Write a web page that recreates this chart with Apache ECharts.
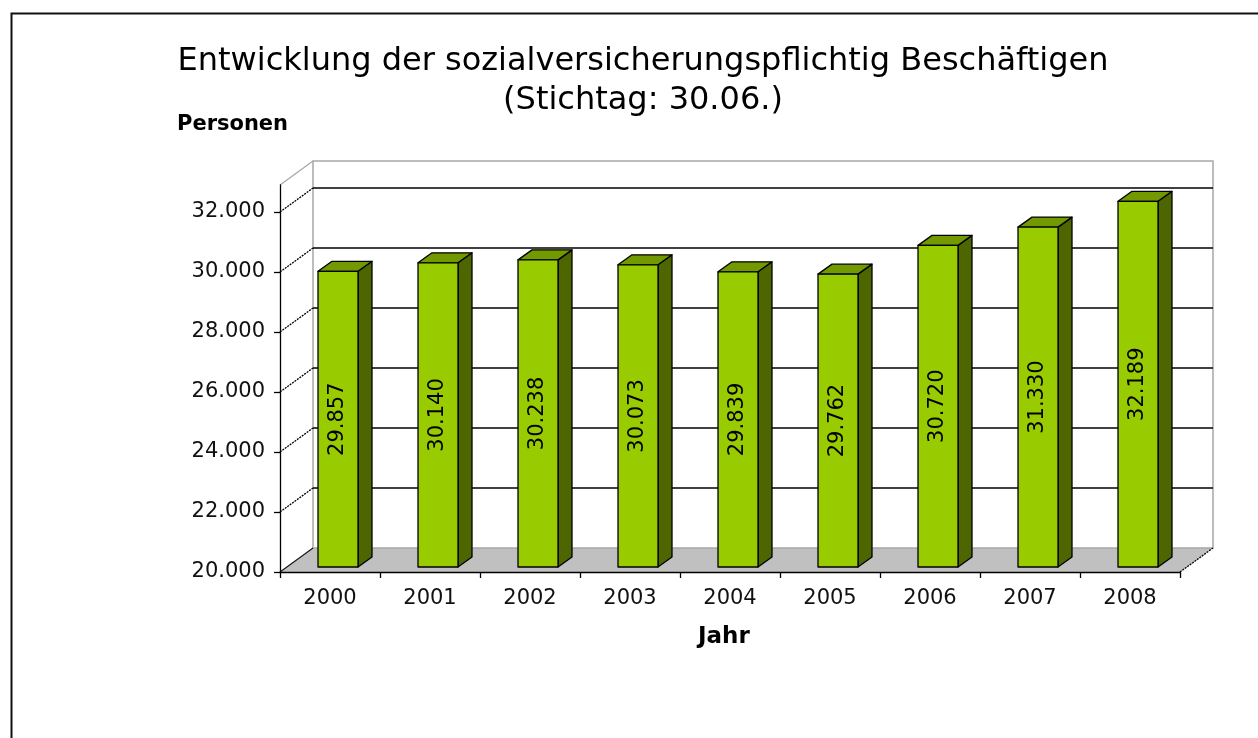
<!DOCTYPE html>
<html><head><meta charset="utf-8">
<script src="https://cdn.jsdelivr.net/npm/echarts@6/dist/echarts.min.js"></script>
<style>html,body{margin:0;padding:0;background:#fff}#c{width:1258px;height:738px}</style>
</head><body><div id="c"></div>
<script>
// ---- data ----
const years = ['2000','2001','2002','2003','2004','2005','2006','2007','2008'];
const employees = [29857, 30140, 30238, 30073, 29839, 29762, 30720, 31330, 32189];
const yTicks = [20000, 22000, 24000, 26000, 28000, 30000, 32000];
const yMin = 20000, yMax = 32900;

const titleText = 'Entwicklung der sozialversicherungspflichtig Beschäftigen\n(Stichtag: 30.06.)';

// ---- 3D geometry (pixels) ----
const WALL = [33, -24];     // depth of walls
const BAR_FRONT = [8, -5];  // bar front face offset into depth
const BAR_DEPTH = [14, -10];
const BAR_RATIO = 0.4;

function fmt(v){ return String(v).replace(/\B(?=(\d{3})+(?!\d))/g, '.'); }

const chart = echarts.init(document.getElementById('c'), null, {renderer:'canvas'});

function renderFrame(params, api){
  const cs = params.coordSys;
  const x0 = cs.x, x1 = cs.x + cs.width, yTop = cs.y, yb = cs.y + cs.height;
  const dx = WALL[0], dy = WALL[1];
  const ch = [];
  // floor
  ch.push({type:'polygon', shape:{points:[[x0,yb],[x1,yb],[x1+dx,yb+dy],[x0+dx,yb+dy]]},
    style:{fill:'#c0c0c0', stroke:null}});
  // back wall
  ch.push({type:'rect', shape:{x:x0+dx, y:yTop+dy, width:x1-x0, height:yb-yTop},
    style:{fill:'#ffffff', stroke:'#a8a8a8', lineWidth:1.5}});
  // left wall top edge
  ch.push({type:'line', shape:{x1:x0, y1:yTop, x2:x0+dx, y2:yTop+dy}, style:{stroke:'#a8a8a8', lineWidth:1.2}});
  // floor side edges
  ch.push({type:'line', shape:{x1:x0, y1:yb, x2:x0+dx, y2:yb+dy}, style:{stroke:'#111', lineWidth:1.1}});
  ch.push({type:'line', shape:{x1:x1, y1:yb, x2:x1+dx, y2:yb+dy}, style:{stroke:'#000', lineWidth:1.3, lineDash:[2,1]}});
  // grid lines
  yTicks.forEach(function(v){
    if (v === yMin) return;
    const y = api.coord([0, v])[1];
    ch.push({type:'line', shape:{x1:x0, y1:y, x2:x0+dx, y2:y+dy}, style:{stroke:'#000', lineWidth:1.3, lineDash:[2,1]}});
    ch.push({type:'line', shape:{x1:x0+dx, y1:y+dy, x2:x1+dx, y2:y+dy}, style:{stroke:'#000', lineWidth:1.3}});
  });
  return {type:'group', children: ch};
}

function renderBar(params, api){
  const idx = api.value(0), val = api.value(1);
  const top = api.coord([idx, val]);
  const base = api.coord([idx, yMin]);
  const w = api.size([1, 0])[0] * BAR_RATIO;
  const xl = top[0] - w/2 + BAR_FRONT[0], xr = xl + w;
  const yt = top[1] + BAR_FRONT[1], ybt = base[1] + BAR_FRONT[1];
  const ddx = BAR_DEPTH[0], ddy = BAR_DEPTH[1];
  const st = {stroke:'#000', lineWidth:1.3, lineJoin:'round'};
  return {type:'group', children:[
    {type:'polygon', shape:{points:[[xr,yt],[xr+ddx,yt+ddy],[xr+ddx,ybt+ddy],[xr,ybt]]}, style:Object.assign({fill:'#4d6600'}, st)},
    {type:'polygon', shape:{points:[[xl,yt],[xr,yt],[xr+ddx,yt+ddy],[xl+ddx,yt+ddy]]}, style:Object.assign({fill:'#739900'}, st)},
    {type:'rect', shape:{x:xl, y:yt, width:w, height:ybt-yt}, style:Object.assign({fill:'#99cc00'}, st)},
    {type:'text', x:(xl+xr)/2, y:(yt+ybt)/2, rotation:Math.PI/2,
      style:{text:fmt(val), x:0, y:0, align:'center', verticalAlign:'middle',
        font:'21px "DejaVu Sans"', fill:'#000'}}
  ]};
}

chart.setOption({
  animation:false,
  backgroundColor:'#ffffff',
  title:{text:titleText, left:638, textAlign:'center', top:37,
    textStyle:{fontFamily:'DejaVu Sans', fontSize:32, fontWeight:'normal', color:'#000', lineHeight:39}},
  grid:{left:280, top:185, width:900, height:387},
  xAxis:{type:'category', data:years, z:5,
    axisLine:{show:true, lineStyle:{color:'#000', width:1.3}},
    axisTick:{show:true, length:6, lineStyle:{color:'#000', width:1.3}},
    axisLabel:{fontFamily:'DejaVu Sans', fontSize:21, color:'#111', margin:16},
    splitLine:{show:false}},
  yAxis:{type:'value', min:yMin, max:yMax, interval:2000, z:5,
    axisLine:{show:true, lineStyle:{color:'#000', width:1.3}},
    axisTick:{show:true, length:6, customValues:yTicks, lineStyle:{color:'#000', width:1.3}},
    axisLabel:{customValues:yTicks, formatter:function(v){return fmt(v);}, fontFamily:'DejaVu Sans', fontSize:21, color:'#111', margin:15},
    splitLine:{show:false}},
  graphic:[
    {type:'rect', left:9, top:11, shape:{x:0,y:0,width:1400,height:900}, style:{fill:'none', stroke:'#111', lineWidth:2}},
    {type:'text', left:177, top:114, style:{text:'Personen', font:'bold 21px "DejaVu Sans"', fill:'#000'}},
    {type:'text', left:698, top:626, style:{text:'Jahr', font:'bold 23px "DejaVu Sans"', fill:'#000'}}
  ],
  series:[
    {type:'custom', name:'frame', z:1, clip:false, silent:true, data:[[0, yMin]], renderItem:renderFrame},
    {type:'custom', name:'Beschäftigte', z:3, clip:false,
      data: employees.map(function(v, i){ return [i, v]; }), renderItem:renderBar}
  ]
});
</script></body></html>
